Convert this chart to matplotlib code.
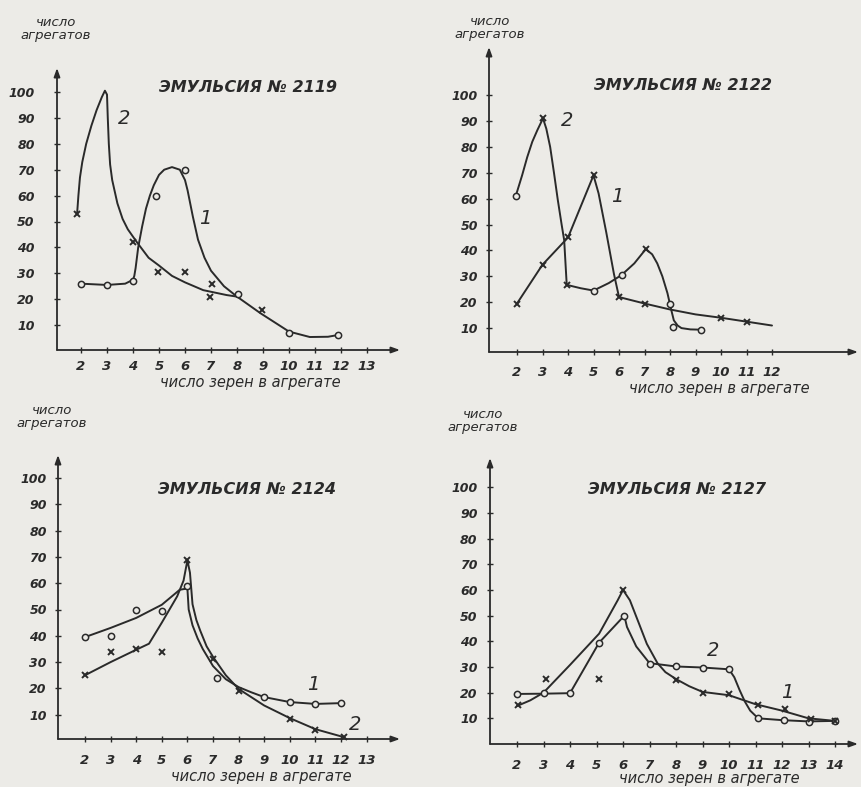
import matplotlib
matplotlib.use("Agg")
import matplotlib.pyplot as plt

# ---------------- data ----------------
titles = ["ЭМУЛЬСИЯ № 2119", "ЭМУЛЬСИЯ № 2122", "ЭМУЛЬСИЯ № 2124", "ЭМУЛЬСИЯ № 2127"]
ylabel = "число\nагрегатов"
xlabel = "число зерен в агрегате"
yticks = [10, 20, 30, 40, 50, 60, 70, 80, 90, 100]
xticks_2119 = list(range(2, 14))
xticks_2122 = list(range(2, 13))
xticks_2124 = list(range(2, 14))
xticks_2127 = list(range(2, 15))

# Emulsion 2119
e2119_c1_x = [2, 3, 3.7, 4.0, 4.05, 4.1, 4.2, 4.35, 4.5, 4.65, 4.8, 5.0, 5.2, 5.5, 5.8, 6.0,
              6.1, 6.3, 6.5, 6.75, 7.0, 7.5, 8.0, 8.9, 10, 10.8, 11.5, 11.9]
e2119_c1_y = [26, 25.5, 26, 27.5, 29, 32, 40, 48, 55, 60, 64, 68, 70, 71, 70, 66,
              62, 52, 43, 36, 31, 25, 21, 14.6, 7.5, 5.4, 5.5, 6.2]
e2119_c2_x = [1.85, 1.9, 1.96, 2.05, 2.2, 2.4, 2.6, 2.8, 2.92, 3.0, 3.03, 3.07, 3.12, 3.2,
              3.4, 3.6, 3.8, 4.15, 4.6, 5.0, 5.5, 6.0, 6.7, 7.6, 8.0]
e2119_c2_y = [53, 60, 67, 73, 80, 87, 93, 98, 100.5, 99, 90, 80, 72, 66,
              57, 51, 47, 42, 36, 33, 29, 26.5, 23.5, 21.6, 21]
e2119_o_x = [2, 3, 4, 4.9, 6, 8.05, 10, 11.9]
e2119_o_y = [26, 25.5, 27, 60, 70, 22, 7, 6.2]
e2119_x_x = [1.85, 4, 4.95, 6, 7.04, 6.96, 8.96]
e2119_x_y = [53, 42, 30.5, 30.5, 26, 21, 16]

# Emulsion 2122
e2122_c1_x = [2, 3, 4, 5, 5.2, 5.5, 5.8, 6.0, 7, 8, 9, 10, 11, 12]
e2122_c1_y = [19.5, 34.5, 45, 69, 62, 47, 31, 22, 19.5, 17.2, 15.3, 14, 12.5, 11]
e2122_c2_x = [1.95, 2.2, 2.4, 2.6, 2.8, 3.02, 3.15, 3.3, 3.45, 3.6, 3.75, 3.85, 3.95, 4.5, 5,
              5.6, 6.1, 6.6, 7.05, 7.3, 7.5, 7.7, 7.9, 8.05, 8.15, 8.3, 8.45, 8.8, 9.2]
e2122_c2_y = [61, 69, 76, 82, 86.5, 91, 87, 80, 70, 59.5, 50, 44, 26.7, 25.4, 24.5,
              27.4, 30.5, 35, 40.5, 38.5, 35, 30, 23.5, 17, 13, 11, 10, 9.5, 9.4]
e2122_o_x = [1.95, 5, 6.1, 8.0, 8.1, 9.2]
e2122_o_y = [61, 24.5, 30.5, 19.5, 10.4, 9.4]
e2122_x_x = [2, 3, 3.02, 4, 3.95, 5, 6.0, 7, 7.05, 10, 11]
e2122_x_y = [19.5, 34.5, 91, 45, 26.7, 69, 22, 19.5, 40.5, 14, 12.5]

# Emulsion 2124
e2124_c1_x = [2, 3, 4, 5, 5.7, 6.0, 6.05, 6.2, 6.4, 6.6, 7, 7.5, 8, 8.5, 9, 10, 11, 12]
e2124_c1_y = [39.5, 43, 46.8, 51.8, 57.5, 58, 50, 44, 39, 35, 28.5, 23.5, 20.5, 18.5, 16.7,
              14.8, 14.1, 14.4]
e2124_c2_x = [2, 3, 4, 4.5, 5, 5.3, 5.6, 5.85, 6.0, 6.1, 6.2, 6.35, 6.5, 6.75, 7, 7.5, 8, 9,
              10, 11, 12.1]
e2124_c2_y = [25, 30, 34.7, 37, 45, 50, 55, 61, 68.7, 64, 52, 46, 42, 36, 32, 25, 19.8, 13.5,
              8.7, 4.5, 1.5]
e2124_o_x = [2, 3, 4, 5, 6, 7.16, 9, 10, 11, 12]
e2124_o_y = [39.5, 40, 49.7, 49.3, 58.8, 24, 16.7, 14.7, 14.2, 14.4]
e2124_x_x = [2, 3, 4, 5, 6, 7, 8, 10, 11, 12.1]
e2124_x_y = [25, 34, 35, 33.8, 68.7, 31, 19, 8.4, 4.3, 1.5]

# Emulsion 2127
e2127_c2_x = [2, 3, 4, 5.1, 6.05, 6.15, 6.5, 7, 8, 9, 10, 10.2, 10.4, 10.6, 10.8, 11.1,
              12, 13, 14]
e2127_c2_y = [19.5, 19.6, 19.8, 39.5, 50, 45.6, 38, 31.5, 30.2, 29.8, 29.1, 26, 21, 16.5,
              13, 10, 9.3, 8.8, 9]
e2127_c1_x = [2, 2.5, 3, 4, 5.1, 5.8, 6, 6.26, 6.6, 6.9, 7.3, 7.6, 8, 8.5, 9, 10, 11, 12,
              13, 14]
e2127_c1_y = [14.8, 17, 20, 30.8, 43, 56, 60, 56, 47, 39, 31.5, 28, 25.3, 22.5, 20.3, 19,
              15.5, 13, 10, 9]
e2127_o_x = [2, 3, 4, 5.1, 6.05, 7, 8, 9, 10, 11.1, 12.08, 13, 14]
e2127_o_y = [19.5, 19.7, 19.9, 39.5, 50, 31, 30.2, 29.8, 29.1, 10, 9.3, 8.7, 9]
e2127_x_x = [2.05, 3.1, 5.1, 6, 8, 9, 10, 11.1, 12.1, 13.1, 14]
e2127_x_y = [15, 25.5, 25.3, 60, 25, 20, 19.3, 15.2, 13.5, 9.6, 9]

# ---------------- style / layout ----------------
W, H = 861, 787
BG = "#ecebe7"
INK = "#2a2a2a"
FONT = "DejaVu Sans"

fig = plt.figure(figsize=(W / 100, H / 100), dpi=100)
fig.patch.set_facecolor(BG)


def ftext(px, py, s, **kw):
    kw.setdefault("color", INK)
    kw.setdefault("family", FONT)
    kw.setdefault("style", "italic")
    fig.text(px / W, 1 - py / H, s, **kw)


def panel(box, x2px, xs, y0px, ys, xticks, ypad, xpad):
    left, right, bottom, top = box
    ax = fig.add_axes([left / W, 1 - bottom / H, (right - left) / W, (bottom - top) / H])
    ax.set_facecolor("none")
    ax.set_xlim(2 + (left - x2px) / xs, 2 + (right - x2px) / xs)
    ax.set_ylim((y0px - bottom) / ys, (y0px - top) / ys)
    for s in ax.spines.values():
        s.set_visible(False)
    arrow = dict(arrowstyle="-|>,head_length=0.5,head_width=0.18", color=INK, lw=1.3,
                 shrinkA=0, shrinkB=0)
    ax.annotate("", xy=(1, 0), xytext=(0, 0), xycoords="axes fraction",
                textcoords="axes fraction", arrowprops=arrow)
    ax.annotate("", xy=(0, 1), xytext=(0, 0), xycoords="axes fraction",
                textcoords="axes fraction", arrowprops=arrow)
    ax.set_yticks(yticks)
    ax.set_yticklabels([str(v) for v in yticks])
    ax.set_xticks(xticks)
    ax.set_xticklabels([str(v) for v in xticks])
    ax.tick_params(axis="y", direction="inout", length=4, width=1, colors=INK, pad=ypad,
                   labelsize=9)
    ax.tick_params(axis="x", direction="inout", length=4, width=1, colors=INK, pad=xpad,
                   labelsize=9.5)
    for lab in ax.get_xticklabels() + ax.get_yticklabels():
        lab.set_style("italic")
        lab.set_family(FONT)
        lab.set_weight("semibold")
    return ax


def curves(ax, lines, o_x, o_y, x_x, x_y):
    for lx, ly in lines:
        ax.plot(lx, ly, color=INK, lw=1.4, clip_on=False, solid_joinstyle="round",
                solid_capstyle="round")
    ax.plot(o_x, o_y, "o", ms=4.5, mfc=BG, mec=INK, mew=1.1, clip_on=False)
    ax.plot(x_x, x_y, "x", ms=4.5, mec=INK, mew=1.4, clip_on=False)


# Panel 1: 2119
ax1 = panel((57, 400, 350, 68), 81, 26.0, 351, 2.59, xticks_2119, 14, 5)
curves(ax1, [(e2119_c1_x, e2119_c1_y), (e2119_c2_x, e2119_c2_y)],
       e2119_o_x, e2119_o_y, e2119_x_x, e2119_x_y)

# Panel 2: 2122
ax2 = panel((489, 858, 352, 47), 517, 25.5, 354, 2.589, xticks_2122, 6, 8)
curves(ax2, [(e2122_c1_x, e2122_c1_y), (e2122_c2_x, e2122_c2_y)],
       e2122_o_x, e2122_o_y, e2122_x_x, e2122_x_y)

# Panel 3: 2124
ax3 = panel((58, 400, 739, 455), 85, 25.6, 741, 2.63, xticks_2124, 6, 9)
curves(ax3, [(e2124_c1_x, e2124_c1_y), (e2124_c2_x, e2124_c2_y)],
       e2124_o_x, e2124_o_y, e2124_x_x, e2124_x_y)

# Panel 4: 2127
ax4 = panel((490, 858, 744, 458), 517, 26.5, 744, 2.567, xticks_2127, 7, 9)
curves(ax4, [(e2127_c1_x, e2127_c1_y), (e2127_c2_x, e2127_c2_y)],
       e2127_o_x, e2127_o_y, e2127_x_x, e2127_x_y)

# titles
tkw = dict(fontsize=11.5, weight="bold", ha="center", va="center")
ftext(248, 87, titles[0], **tkw)
ftext(683, 85, titles[1], **tkw)
ftext(247, 489, titles[2], **tkw)
ftext(677, 490, titles[3], **tkw)

# y labels
ykw = dict(fontsize=9.5, ha="center", va="center", linespacing=0.95)
ftext(56, 29, ylabel, **ykw)
ftext(490, 28, ylabel, **ykw)
ftext(52, 417, ylabel, **ykw)
ftext(483, 421, ylabel, **ykw)

# x labels
xkw = dict(fontsize=10.5, ha="center", va="center")
ftext(250, 383, xlabel, **xkw)
ftext(719, 388, xlabel, **xkw)
ftext(261, 777, xlabel, **xkw)
ftext(709, 779, xlabel, **xkw)

# curve numbers
nkw = dict(fontsize=14, ha="center", va="center")
ftext(124, 118, "2", **nkw)
ftext(205, 218, "1", **nkw)
ftext(567, 120, "2", **nkw)
ftext(617, 197, "1", **nkw)
ftext(313, 685, "1", **nkw)
ftext(355, 725, "2", **nkw)
ftext(713, 650, "2", **nkw)
ftext(787, 692, "1", **nkw)

fig.savefig("out.png", dpi=100, facecolor=BG)
